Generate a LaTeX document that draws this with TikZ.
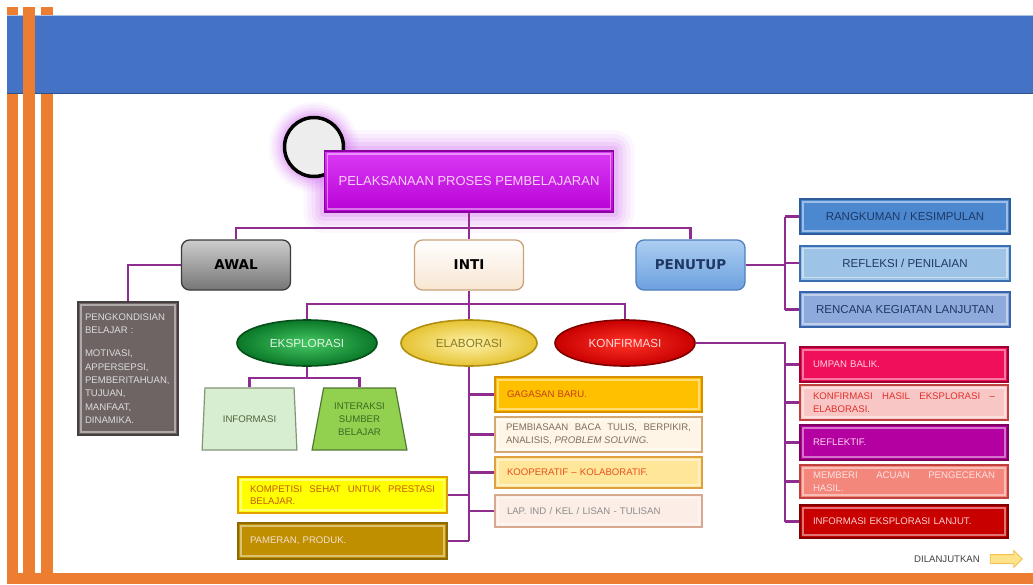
\documentclass[tikz,border=0pt]{standalone}
\usepackage{fontspec}
\setmainfont{Liberation Sans}
\newfontfamily\heavyfont{DejaVu Sans}
\usetikzlibrary{shapes.geometric,shapes.arrows}
\pgfdeclarelayer{back}
\pgfdeclarelayer{halo}
\pgfsetlayers{back,halo,main}
\newcommand\fsz[2]{\fontsize{#1}{#2}\selectfont}

\definecolor{bandblue}{HTML}{4472C4}
\definecolor{stripe}{HTML}{ED7D31}
\definecolor{linkc}{HTML}{8E2C90}
\definecolor{glowc}{HTML}{D060F0}
\definecolor{ringfill}{HTML}{EDEDED}
\definecolor{navy}{HTML}{1F3864}

\begin{document}
\begin{tikzpicture}[x=1pt,y=-1pt,
  link/.style={draw=linkc,line width=2.2pt},
  bevel/.style={path picture={\draw[white,opacity=.45,line width=1.1pt]
      ([xshift=3pt,yshift=-3pt]path picture bounding box.north west) rectangle
      ([xshift=-3pt,yshift=3pt]path picture bounding box.south east);}},
  headbox/.style={rectangle,rounded corners=8pt,minimum width=109pt,minimum height=50pt,
      line width=1.3pt,font=\heavyfont\bfseries\fsz{13.5}{16}},
  oval/.style={ellipse,minimum width=140pt,minimum height=46pt,inner sep=0pt,
      line width=1.6pt,font=\fsz{11.7}{14}},
  trap/.style={trapezium,trapezium angle=76,trapezium stretches=true,
      minimum width=95pt,minimum height=62pt,inner sep=0pt,line width=1.2pt,
      align=center,font=\fsz{9.6}{13}},
  panel/.style={rectangle,line width=2pt,bevel,inner ysep=2pt},
  sidebox/.style={panel,minimum width=210pt,minimum height=35pt,text=navy,
      font=\fsz{11.5}{14}},
  notebox/.style={panel,text width=#1,inner xsep=12pt,align=left,
      font=\fsz{9.6}{12.5}},
  notebox/.default=183pt,
  jbox/.style={panel,text width=#1,inner xsep=13pt,align=justify,
      font=\fsz{9.6}{12.5}},
  jbox/.default=182pt
]
\useasboundingbox (0,0) rectangle (1033,584);

% slide frame: stripes, header band and bottom rule
\begin{pgfonlayer}{back}
\fill[white] (0,0) rectangle (1033,584);
\fill[stripe] (7,7) rectangle (18,584);
\fill[stripe] (41,7) rectangle (53,584);
\fill[bandblue] (7,15) rectangle (1033,94);
\draw[bandblue!45!white,line width=1pt] (7,15.5) -- (1033,15.5);
\draw[bandblue!70!black,line width=.8pt] (7,93.6) -- (1033,93.6);
\fill[stripe] (23,7) rectangle (35,584);
\fill[stripe] (7,573) rectangle (1033,584);
\end{pgfonlayer}

% title with its ring
\node[circle,minimum size=59pt,fill=ringfill,draw=black,line width=3.5pt] (ring) at (314,147) {};
\node[rectangle,minimum width=289pt,minimum height=61pt,
      top color={rgb,255:red,218;green,60;blue,245},bottom color={rgb,255:red,184;green,0;blue,214},
      draw={rgb,255:red,138;green,0;blue,160},line width=1.6pt,bevel,
      text={rgb,255:red,248;green,208;blue,248},font=\fsz{13}{15}]
      (title) at (469,181.5) {PELAKSANAAN PROSES PEMBELAJARAN};

\begin{pgfonlayer}{halo}
\foreach \g/\o in {20/0.05,16/0.07,12/0.09,8/0.12,4/0.16}{
  \fill[glowc,opacity=\o,rounded corners=\g pt]
    ([xshift=-\g pt,yshift=\g pt]title.north west) rectangle ([xshift=\g pt,yshift=-\g pt]title.south east);
  \fill[glowc,opacity=\o] (ring.center) circle[radius={31pt+0.7*\g pt}];
}
\end{pgfonlayer}

% first level
\node[headbox,top color={rgb,255:red,205;green,205;blue,205},bottom color={rgb,255:red,118;green,118;blue,118},
      draw={rgb,255:red,60;green,60;blue,60},text=black] (awal) at (236,265) {AWAL};
\node[headbox,top color=white,bottom color={rgb,255:red,248;green,230;blue,210},
      draw={rgb,255:red,201;green,162;blue,122},text=black] (inti) at (469,265) {INTI};
\node[headbox,top color={rgb,255:red,172;green,206;blue,242},bottom color={rgb,255:red,108;green,160;blue,222},
      draw={rgb,255:red,79;green,127;blue,191},text=navy] (penutup) at (690.5,265) {PENUTUP};

\coordinate (hubA) at (469,228);
\draw[link] (title.south) -- (inti.north);
\draw[link] (awal.north) -- (awal.north |- hubA) -- (penutup.north |- hubA) -- (penutup.north);

% AWAL
\node[panel,minimum width=100pt,minimum height=133pt,text width=86pt,inner xsep=7pt,align=left,
      fill={rgb,255:red,110;green,100;blue,100},draw={rgb,255:red,70;green,64;blue,64},
      text={rgb,255:red,220;green,220;blue,220},font=\fsz{9.6}{13.3}]
      (peng) at (128,368.5) {PENGKONDISIAN\\BELAJAR :\\[10pt]MOTIVASI,\\APPERSEPSI,\\PEMBERITAHUAN,\\TUJUAN,\\MANFAAT,\\DINAMIKA.};
\draw[link] (awal.west) -| (peng.north);

% INTI: three phases
\node[oval,inner color={rgb,255:red,70;green,200;blue,100},outer color={rgb,255:red,10;green,120;blue,40},
      draw={rgb,255:red,5;green,80;blue,25},text={rgb,255:red,225;green,245;blue,225}] (eks) at (307,343) {EKSPLORASI};
\node[oval,inner color={rgb,255:red,253;green,242;blue,170},outer color={rgb,255:red,230;green,195;blue,50},
      draw={rgb,255:red,176;green,144;blue,16},text={rgb,255:red,140;green,122;blue,30},minimum width=136pt] (ela) at (469,343) {ELABORASI};
\node[oval,inner color={rgb,255:red,255;green,50;blue,40},outer color={rgb,255:red,200;green,0;blue,0},
      draw={rgb,255:red,128;green,0;blue,0},text={rgb,255:red,255;green,216;blue,216}] (kon) at (625,343) {KONFIRMASI};

\coordinate (hubB) at (469,304);
\draw[link] (inti.south) -- (ela.north);
\draw[link] (eks.north) |- (hubB) -| (kon.north);

% EKSPLORASI
\node[trap,fill={rgb,255:red,216;green,238;blue,208},draw={rgb,255:red,130;green,150;blue,120},
      text={rgb,255:red,80;green,98;blue,60}] (info) at (249.5,419) {INFORMASI};
\node[trap,fill={rgb,255:red,146;green,208;blue,80},draw={rgb,255:red,80;green,120;blue,50},
      text={rgb,255:red,58;green,107;blue,32}] (inter) at (359.5,419) {INTERAKSI\\SUMBER\\BELAJAR};
\coordinate (hubC) at (307,378);
\draw[link] (eks.south) -- (hubC);
\draw[link] (info.north) |- (hubC) -| (inter.north);

% ELABORASI
\node[notebox,minimum height=35pt,fill={rgb,255:red,255;green,192;blue,0},draw={rgb,255:red,216;green,144;blue,0},
      text={rgb,255:red,196;green,64;blue,30}] (gag) at (598.5,394.5) {GAGASAN BARU.};
\node[jbox=185pt,inner xsep=11pt,minimum height=35pt,fill={rgb,255:red,254;green,245;blue,230},draw={rgb,255:red,212;green,168;blue,112},
      text={rgb,255:red,127;green,111;blue,95}] (pem) at (598.5,434.5) {PEMBIASAAN BACA TULIS, BERPIKIR,\linebreak ANALISIS, \textit{PROBLEM SOLVING.}};
\node[notebox,minimum height=31pt,fill={rgb,255:red,255;green,230;blue,153},draw={rgb,255:red,224;green,160;blue,64},
      text={rgb,255:red,232;green,80;blue,28}] (koo) at (598.5,472.5) {KOOPERATIF – KOLABORATIF.};
\node[notebox,minimum height=32pt,fill={rgb,255:red,252;green,238;blue,230},draw={rgb,255:red,216;green,168;blue,144},
      text={rgb,255:red,140;green,140;blue,140}] (lap) at (598.5,511) {LAP. IND / KEL / LISAN - TULISAN};
\node[jbox=185pt,inner xsep=12pt,minimum height=36pt,fill={rgb,255:red,255;green,255;blue,0},draw={rgb,255:red,224;green,160;blue,0},
      text={rgb,255:red,197;green,90;blue,17}] (kom) at (342.5,495) {KOMPETISI SEHAT UNTUK PRESTASI\linebreak BELAJAR.};
\node[notebox=185pt,minimum height=36pt,fill={rgb,255:red,191;green,143;blue,0},draw={rgb,255:red,140;green,106;blue,0},
      text={rgb,255:red,242;green,224;blue,208}] (pam) at (342.5,541) {PAMERAN, PRODUK.};

\draw[link] (ela.south) -- (ela.south |- pam.east);
\foreach \b in {gag,pem,koo,lap} \draw[link] (ela.south |- \b.west) -- (\b.west);
\foreach \b in {kom,pam} \draw[link] (ela.south |- \b.east) -- (\b.east);

% PENUTUP
\coordinate (spine) at (785,0);
\node[sidebox,fill={rgb,255:red,76;green,136;blue,208},draw={rgb,255:red,46;green,92;blue,153}] (rang) at (905,216.5) {RANGKUMAN / KESIMPULAN};
\node[sidebox,fill={rgb,255:red,157;green,195;blue,230},draw={rgb,255:red,58;green,111;blue,176}] (refl) at (905,263) {REFLEKSI / PENILAIAN};
\node[sidebox,fill={rgb,255:red,142;green,169;blue,219},draw={rgb,255:red,58;green,100;blue,170}] (renc) at (905,309.5) {RENCANA KEGIATAN LANJUTAN};
\draw[link] (penutup.east) -- (spine |- penutup.east);
\draw[link] (spine |- rang.west) -- (spine |- renc.west);
\foreach \b in {rang,refl,renc} \draw[link] (spine |- \b.west) -- (\b.west);

% KONFIRMASI
\node[notebox=182pt,inner xsep=13pt,minimum height=35pt,fill={rgb,255:red,240;green,15;blue,90},draw={rgb,255:red,160;green,0;blue,48},
      text={rgb,255:red,255;green,208;blue,224}] (ump) at (904,364.5) {UMPAN BALIK.};
\node[jbox,minimum height=35pt,fill={rgb,255:red,249;green,198;blue,198},draw={rgb,255:red,192;green,64;blue,64},
      text={rgb,255:red,224;green,48;blue,42}] (kfh) at (904,402.5) {KONFIRMASI HASIL EKSPLORASI –\linebreak ELABORASI.};
\node[notebox=182pt,inner xsep=13pt,minimum height=35pt,fill={rgb,255:red,180;green,0;blue,160},draw={rgb,255:red,128;green,0;blue,96},
      text={rgb,255:red,255;green,210;blue,240}] (rft) at (904,442.5) {REFLEKTIF.};
\node[jbox,minimum height=33pt,fill={rgb,255:red,243;green,135;blue,124},draw={rgb,255:red,192;green,64;blue,64},
      text={rgb,255:red,253;green,226;blue,226}] (mem) at (904,481.5) {MEMBERI ACUAN PENGECEKAN\linebreak HASIL.};
\node[notebox=182pt,inner xsep=13pt,minimum height=33pt,fill={rgb,255:red,200;green,0;blue,0},draw={rgb,255:red,128;green,0;blue,0},
      text={rgb,255:red,255;green,208;blue,208}] (infl) at (904,521.5) {INFORMASI EKSPLORASI LANJUT.};
\draw[link] (kon.east) -- (spine |- kon.east) -- (spine |- infl.west);
\foreach \b in {ump,kfh,rft,mem,infl} \draw[link] (spine |- \b.west) -- (\b.west);

% continuation mark
\node[text={rgb,255:red,64;green,64;blue,64},font=\fsz{9.6}{12}] (more) at (947,559) {DILANJUTKAN};
\node[single arrow,minimum height=32pt,inner sep=4pt,single arrow head extend=4pt,
      fill={rgb,255:red,255;green,227;blue,138},draw={rgb,255:red,242;green,193;blue,78},line width=.8pt] (next) at (1004,559) {};
\end{tikzpicture}
\end{document}
